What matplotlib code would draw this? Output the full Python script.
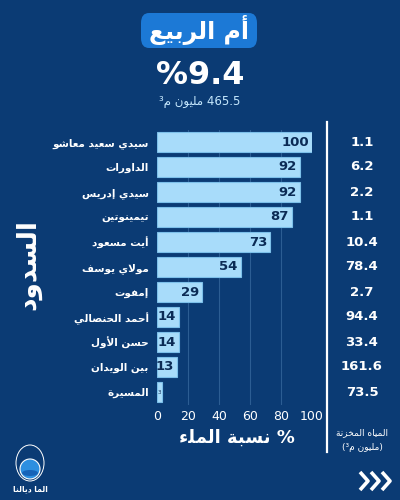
"""
Dam fill chart - Oum Er-Rbia basin, recreated with matplotlib.
"""

import re
import matplotlib
matplotlib.use("Agg")
import matplotlib.pyplot as plt
import matplotlib.patches as mpatches
from matplotlib.lines import Line2D
from matplotlib.transforms import blended_transform_factory

# Data
basin_name = "أم الربيع"
basin_rate = "%9.4"
basin_volume = "465.5 مليون م³"
dams = [
    "سيدي سعيد معاشو", "الداورات", "سيدي إدريس", "تيمينوتين", "أيت مسعود",
    "مولاي يوسف", "إمفوت", "أحمد الحنصالي", "حسن الأول", "بين الويدان", "المسيرة",
]
fill_pct = [100, 92, 92, 87, 73, 54, 29, 14, 14, 13, 3]
stored = [1.1, 6.2, 2.2, 1.1, 10.4, 78.4, 2.7, 94.4, 33.4, 161.6, 73.5]
x_ticks = [0, 20, 40, 60, 80, 100]

# Colours
BG = "#0b3b74"
BOX = "#1c79d6"
BAR = "#a8dcfa"
BAR_EDGE = "#7cc0ea"
GRID = "#2c5d93"
DARK = "#0b2b55"
LIGHT = "#c4e6fc"

# --- minimal Arabic shaping (matplotlib has no bidi / joining) ---
_LETTERS = [
    ("ء", 0xFE80, 1), ("آ", 0xFE81, 2), ("أ", 0xFE83, 2), ("ؤ", 0xFE85, 2),
    ("إ", 0xFE87, 2), ("ئ", 0xFE89, 4), ("ا", 0xFE8D, 2), ("ب", 0xFE8F, 4),
    ("ة", 0xFE93, 2), ("ت", 0xFE95, 4), ("ث", 0xFE99, 4), ("ج", 0xFE9D, 4),
    ("ح", 0xFEA1, 4), ("خ", 0xFEA5, 4), ("د", 0xFEA9, 2), ("ذ", 0xFEAB, 2),
    ("ر", 0xFEAD, 2), ("ز", 0xFEAF, 2), ("س", 0xFEB1, 4), ("ش", 0xFEB5, 4),
    ("ص", 0xFEB9, 4), ("ض", 0xFEBD, 4), ("ط", 0xFEC1, 4), ("ظ", 0xFEC5, 4),
    ("ع", 0xFEC9, 4), ("غ", 0xFECD, 4), ("ف", 0xFED1, 4), ("ق", 0xFED5, 4),
    ("ك", 0xFED9, 4), ("ل", 0xFEDD, 4), ("م", 0xFEE1, 4), ("ن", 0xFEE5, 4),
    ("ه", 0xFEE9, 4), ("و", 0xFEED, 2), ("ى", 0xFEEF, 2), ("ي", 0xFEF1, 4),
]
FORMS = {c: (base, n) for c, base, n in _LETTERS}
LAM_ALEF = {"آ": 0xFEF5, "أ": 0xFEF7, "إ": 0xFEF9, "ا": 0xFEFB}


def _n(u):
    if isinstance(u, tuple):
        return 2
    return FORMS[u][1] if u in FORMS else 0


def ar(text):
    """Shape Arabic text and return it in visual (left-to-right) order."""
    units, i = [], 0
    while i < len(text):
        if text[i] == "ل" and i + 1 < len(text) and text[i + 1] in LAM_ALEF:
            units.append(("LA", text[i + 1]))
            i += 2
        else:
            units.append(text[i])
            i += 1
    out = []
    for k, u in enumerate(units):
        n = _n(u)
        if n == 0:
            out.append(u)
            continue
        prev = k > 0 and _n(units[k - 1]) == 4
        nxt = n == 4 and k + 1 < len(units) and _n(units[k + 1]) > 0
        if isinstance(u, tuple):
            out.append(chr(LAM_ALEF[u[1]] + (1 if prev else 0)))
            continue
        base = FORMS[u][0]
        if n == 1:
            idx = 0
        elif prev and nxt:
            idx = 3
        elif prev:
            idx = 1
        elif nxt:
            idx = 2
        else:
            idx = 0
        out.append(chr(base + idx))
    vis = "".join(out)[::-1]
    return re.sub(r"[0-9.]+", lambda m: m.group()[::-1], vis)


plt.rcParams["font.family"] = ["DejaVu Sans"]

fig = plt.figure(figsize=(4, 5), dpi=100, facecolor=BG)

# Title box
fig.patches.append(mpatches.FancyBboxPatch(
    (141 / 400, 1 - 48 / 500), 116 / 400, 35 / 500,
    boxstyle="round,pad=0,rounding_size=0.02",
    transform=fig.transFigure, fc=BOX, ec="none"))
fig.text(0.497, 1 - 30 / 500, ar(basin_name), color="white", fontsize=17,
         weight="bold", ha="center", va="center")
fig.text(0.5, 1 - 75 / 500, basin_rate, color="white", fontsize=23,
         weight="bold", ha="center", va="center")
fig.text(0.5, 1 - 102 / 500, ar(basin_volume), color=LIGHT, fontsize=8.5,
         ha="center", va="center")

# Bars
ax = fig.add_axes([157 / 400, 1 - 404.5 / 500, 155 / 400, 275 / 500])
ax.set_facecolor(BG)
y = list(range(len(dams)))
ax.barh(y, fill_pct, height=0.8, color=BAR, edgecolor=BAR_EDGE, linewidth=0.8, zorder=3)
ax.set_ylim(len(dams) - 0.5, -0.5)
ax.set_xlim(0, 100)
ax.set_xticks(x_ticks)
ax.set_xticklabels([str(t) for t in x_ticks], color="white", fontsize=9)
ax.set_yticks(y)
ax.set_yticklabels([ar(d) for d in dams], color="white", fontsize=7.5, weight="bold")
ax.tick_params(length=0, axis="y", pad=6)
ax.tick_params(length=0, axis="x", pad=4)
for t in x_ticks[1:-1]:
    ax.axvline(t, color=GRID, linewidth=0.8, zorder=1)
for s in ax.spines.values():
    s.set_visible(False)

for yi, v in zip(y, fill_pct):
    if v >= 10:
        ax.text(v - 2, yi, str(v), color=DARK, fontsize=9.5, weight="bold",
                ha="right", va="center", zorder=4)
    else:
        ax.text(v / 2, yi, str(v), color=DARK, fontsize=4, ha="center",
                va="center", zorder=4)

# Stored volume column
tr = blended_transform_factory(fig.transFigure, ax.transData)
for yi, v in zip(y, stored):
    ax.text(0.905, yi, f"{v}", transform=tr, color="white", fontsize=9.5,
            weight="bold", ha="center", va="center", clip_on=False)

fig.lines.append(Line2D([327 / 400, 327 / 400], [1 - 122 / 500, 1 - 452 / 500],
                        transform=fig.transFigure, color="white", linewidth=1.6))

# Axis titles
fig.text(28 / 400, 1 - 265 / 500, ar("السدود"), color="white", fontsize=19,
         weight="bold", rotation=90, ha="center", va="center")
fig.text(237 / 400, 1 - 438 / 500, ar("نسبة الملء") + " %", color="white",
         fontsize=13, weight="bold", ha="center", va="center")
fig.text(362 / 400, 1 - 433 / 500, ar("المياه المخزنة"), color="white",
         fontsize=6.5, ha="center", va="center")
fig.text(362 / 400, 1 - 448 / 500, "(" + ar("مليون م³") + ")", color="white",
         fontsize=6.5, ha="center", va="center")

# Logo
cx, cy = 30 / 400, 1 - 467 / 500
fig.patches.append(mpatches.Ellipse((cx, cy - 0.004), 20 / 400, 20 / 500,
                                    transform=fig.transFigure, fc="#2d8fe0",
                                    ec="white", lw=0.8))
fig.patches.append(mpatches.Ellipse((cx, cy + 0.008), 28 / 400, 36 / 500,
                                    transform=fig.transFigure, fc="none",
                                    ec="white", lw=0.7))
fig.patches.append(mpatches.Ellipse((cx, cy - 0.012), 16 / 400, 6 / 500,
                                    transform=fig.transFigure, fc="#1663b8",
                                    ec="none"))
fig.text(cx, 1 - 489 / 500, ar("الما ديالنا"), color="white", fontsize=5.5,
         weight="bold", ha="center", va="center")

# Chevrons
for k in range(3):
    x0 = (360 + k * 11) / 400
    fig.lines.append(Line2D([x0, x0 + 8 / 400, x0],
                            [1 - 472 / 500, 1 - 481 / 500, 1 - 490 / 500],
                            transform=fig.transFigure, color="white",
                            linewidth=2.6, solid_capstyle="butt"))

fig.savefig("out.png", dpi=100, facecolor=BG)
